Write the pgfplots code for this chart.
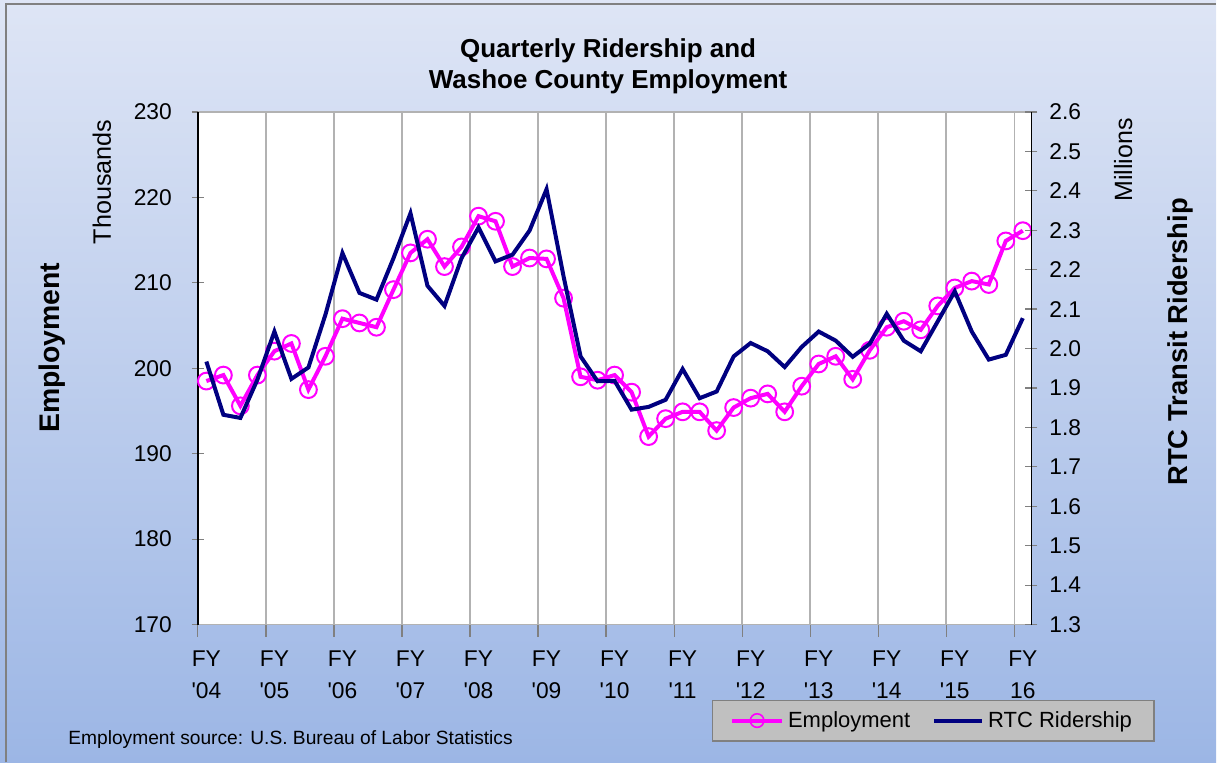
\documentclass[border=0pt]{standalone}
\usepackage{fontspec}
\setmainfont{Liberation Sans}
\usepackage{pgfplots}
\pgfplotsset{compat=1.18}
\definecolor{bgtop}{RGB}{222,229,245}
\definecolor{bgbot}{RGB}{156,182,229}
\definecolor{emp}{RGB}{255,0,255}
\definecolor{rtc}{RGB}{0,0,128}
\definecolor{gridc}{RGB}{178,178,178}
\definecolor{legfill}{RGB}{192,192,192}

\pgfplotstableread{
i v
0 198.5
1 199.2
2 195.6
3 199.2
4 202.0
5 202.9
6 197.5
7 201.4
8 205.8
9 205.3
10 204.8
11 209.2
12 213.5
13 215.1
14 211.9
15 214.2
16 217.8
17 217.2
18 211.9
19 212.9
20 212.8
21 208.2
22 199.0
23 198.6
24 199.2
25 197.2
26 192.0
27 194.1
28 194.9
29 194.9
30 192.7
31 195.4
32 196.5
33 197.0
34 194.9
35 197.9
36 200.5
37 201.4
38 198.7
39 202.1
40 204.8
41 205.5
42 204.5
43 207.3
44 209.4
45 210.2
46 209.8
47 214.9
48 216.1
}\emptable

\pgfplotstableread{
i v
0 1.967
1 1.832
2 1.824
3 1.921
4 2.043
5 1.923
6 1.952
7 2.086
8 2.242
9 2.141
10 2.124
11 2.229
12 2.343
13 2.159
14 2.108
15 2.229
16 2.307
17 2.221
18 2.238
19 2.299
20 2.404
21 2.183
22 1.980
23 1.917
24 1.918
25 1.845
26 1.852
27 1.870
28 1.948
29 1.874
30 1.891
31 1.980
32 2.014
33 1.993
34 1.953
35 2.004
36 2.043
37 2.020
38 1.979
39 2.012
40 2.088
41 2.020
42 1.993
43 2.069
44 2.145
45 2.043
46 1.972
47 1.984
48 2.077
}\rtctable

\begin{document}
\begin{tikzpicture}[x=1pt,y=1pt]
% background
\shade[top color=bgtop, bottom color=bgbot] (0,0) rectangle (608.5,381.5);
\draw[gray, line width=0.8pt] (3,0) -- (3,379.5) -- (608.5,379.5);
\useasboundingbox (0,0) rectangle (608.5,381.5);

% title
\node[anchor=base, font=\fontsize{13}{15}\selectfont\bfseries] at (304.25,352.8) {Quarterly Ridership and};
\node[anchor=base, font=\fontsize{13}{15}\selectfont\bfseries] at (304.25,337.3) {Washoe County Employment};

% axis titles
\node[rotate=90, font=\fontsize{14.2}{16}\selectfont\bfseries] at (26,207.5) {Employment};
\node[rotate=90, font=\fontsize{12.6}{15}\selectfont] at (51,290.5) {Thousands};
\node[rotate=90, font=\fontsize{12.5}{15}\selectfont] at (562,301.5) {Millions};
\node[rotate=90, font=\fontsize{13.7}{16}\selectfont\bfseries] at (590.5,210.5) {RTC Transit Ridership};

% source
\node[anchor=base west, font=\fontsize{9.6}{11}\selectfont, inner sep=0pt] at (34,9) {Employment source: U.S. Bureau of Labor Statistics};

\begin{axis}[
  at={(99pt,69pt)}, anchor=south west,
  scale only axis, width=417pt, height=256.5pt,
  xmin=-0.5, xmax=48.5, ymin=170, ymax=230,
  axis background/.style={fill=white},
  separate axis lines,
  axis x line*=box, axis y line*=left,
  x axis line style={gridc, line width=0.8pt},
  y axis line style={black, line width=0.8pt},
  xtick={-0.5,3.5,...,47.5}, xticklabels={},
  xtick pos=bottom,
  xmajorgrids, grid style={gridc, line width=0.8pt},
  x tick style={gray, line width=0.6pt}, xtick align=outside,
  extra x ticks={0,4,...,48},
  extra x tick labels={FY\\\textquotesingle04,FY\\\textquotesingle05,FY\\\textquotesingle06,FY\\\textquotesingle07,FY\\\textquotesingle08,FY\\\textquotesingle09,FY\\\textquotesingle10,FY\\\textquotesingle11,FY\\\textquotesingle12,FY\\\textquotesingle13,FY\\\textquotesingle14,FY\\\textquotesingle15,FY\\16},
  extra x tick style={grid=none, major tick length=0pt},
  xticklabel style={align=center, font=\fontsize{11.4}{16}\selectfont, yshift=-9.5pt},
  ytick={170,180,...,230},
  y tick style={gray, line width=0.6pt}, ytick align=center,
  major tick length=6pt,
  yticklabel style={font=\fontsize{11.4}{14}\selectfont, xshift=-6.5pt},
  /pgf/number format/assume math mode=true,
  clip=false,
]
\addplot[emp, line width=2pt, mark=o, mark size=4.2pt, mark options={line width=1pt, fill=none, draw=emp}] table[x=i, y=v] {\emptable};
\end{axis}

\begin{axis}[
  at={(99pt,69pt)}, anchor=south west,
  scale only axis, width=417pt, height=256.5pt,
  xmin=-0.5, xmax=48.5, ymin=1.3, ymax=2.6,
  axis x line=none,
  axis y line*=right,
  y axis line style={black, line width=0.8pt},
  ytick={1.3,1.4,1.5,1.6,1.7,1.8,1.9,2.0,2.1,2.2,2.3,2.4,2.5,2.6},
  y tick style={gray, line width=0.6pt}, ytick align=center,
  major tick length=6pt,
  yticklabel style={font=\fontsize{11.4}{14}\selectfont, xshift=2.5pt, /pgf/number format/.cd, fixed, fixed zerofill, precision=1},
  /pgf/number format/assume math mode=true,
  legend columns=2,
  legend style={at={(0.6163,-0.1462)}, anchor=north west, fill=legfill, draw=gray, line width=0.6pt,
    font=\fontsize{11}{13}\selectfont, inner xsep=9pt, inner ysep=3.5pt,
    /tikz/every even column/.append style={column sep=9pt}},
  legend cell align=left,
]
\addlegendimage{legend image code/.code={\draw[emp, line width=2pt] (0pt,0pt) -- (25pt,0pt); \draw[emp, line width=0.8pt, fill=none] (12.5pt,0pt) circle (3.4pt);}}
\addlegendentry{Employment}
\addlegendimage{legend image code/.code={\draw[rtc, line width=2pt] (0pt,0pt) -- (24pt,0pt);}}
\addlegendentry{RTC Ridership}
\addplot[rtc, line width=2pt, no marks] table[x=i, y=v] {\rtctable};
\end{axis}
\end{tikzpicture}
\end{document}
